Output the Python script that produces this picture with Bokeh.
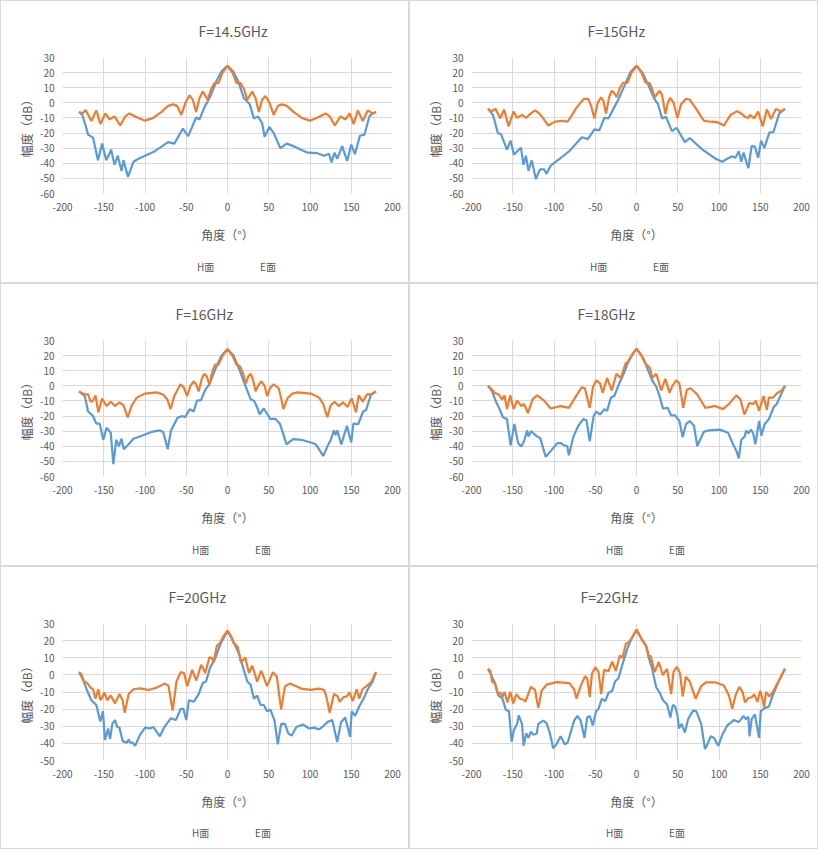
from bokeh.plotting import figure
from bokeh.layouts import gridplot
from bokeh.models import Legend, LegendItem, SingleIntervalTicker, Range1d, NumeralTickFormatter
from bokeh.embed import file_html
from bokeh.resources import INLINE

# ---------------- data (angle in degrees, amplitude in dB) ----------------
titles = ["F=14.5GHz", "F=15GHz", "F=16GHz", "F=18GHz", "F=20GHz", "F=22GHz"]
y_mins = [-60, -60, -60, -60, -50, -50]
series_names = ["H面", "E面"]

# 14.5 GHz
h145_deg = [-180, -176, -172, -169, -163, -157, -152, -147, -141, -137, -133, -128.5, -126, -120.6, -114, -108, -100, -88, -80, -72, -64.5, -54, -47.6, -41, -38, -34, -28, -21, -13, -7, 0,
            6.5, 12.4, 20, 27, 32, 37, 42, 45, 50.7, 56, 64, 71.6, 81.5, 97, 109, 117, 123, 126, 129.7, 133, 139, 145, 150, 154.5, 160.5, 166, 172, 176, 180]
h145_db = [-6, -8, -15, -21, -23, -38, -27, -38, -31, -41, -35, -45, -38, -49, -39, -37, -35, -32, -29, -26, -27, -17, -22, -13.5, -9.7, -11, -3, 4, 15, 21, 24.5,
           21, 15, 3, -1, -10.3, -9, -13.5, -22.5, -16, -20, -30, -27, -29, -33, -33.3, -35, -33.7, -39.5, -33, -37, -28.7, -38.5, -27.6, -34, -21.8, -21, -9, -7, -6]
e145_deg = [-180, -176, -172, -165, -159, -154, -148, -143, -137, -130, -124, -119, -110, -100, -90, -80, -72, -66, -61, -56, -51, -46, -42, -38, -34, -30, -24, -20, -16, -11, -6, 0,
            6, 11, 16, 20, 24, 30, 34, 38, 42, 46, 51, 56, 61, 66, 72, 80, 90, 100, 110, 119, 124, 130, 137, 143, 148, 153, 158, 164, 170, 176, 180]
e145_db = [-6, -7, -4.7, -12, -5, -14, -7, -11, -9, -15, -9, -7, -9.5, -11.8, -10, -6, -2, -1, -2, -8, 0, 5, 2, -6, 3, 7.5, 2, 9, 13, 13, 20, 24.5,
           20, 13, 13, 9, 2, 7.5, 3, -6, 2, 4.5, 0, -8, -2, -1, -2, -6, -10, -11.8, -9.5, -7, -9, -15, -9, -11, -7, -14, -5, -12, -5, -7, -6]

# 15 GHz
h15_deg = [-180, -174, -168, -164, -157, -152.6, -148.6, -142.7, -140, -137, -134, -131, -127, -122, -117, -112, -109, -104, -93, -81.5, -70, -66, -59, -51, -45, -39, -34, -28, -22, -14.4, -7.7, 0,
           7.3, 15, 21, 26, 31, 35.7, 43, 48.7, 58.6, 64.5, 80, 96, 104, 110, 116, 120, 124, 127, 129.7, 135.6, 139.6, 143.5, 147.5, 151, 155, 161, 166, 173, 180]
h15_db = [-4, -8, -20, -21, -31, -25, -34.3, -31, -29.7, -41, -35, -45, -38, -50.4, -44, -44, -47, -41.6, -37, -32, -25, -22.8, -24, -17.6, -18.2, -10, -10.3, -4, 2.2, 11.6, 20, 24.5,
          20, 11, 3.3, -0.9, -10.3, -9.3, -18.7, -16.6, -26, -23.3, -31, -37, -39, -37, -35.4, -36.4, -32, -39, -33, -43.3, -28.5, -29, -36.4, -25, -30, -19.7, -19.3, -7, -4]
e15_deg = [-180, -176, -171, -165, -160.5, -155, -149, -144.7, -139, -134, -128, -123, -118, -113, -107, -99, -90, -83.5, -78, -73.7, -68, -63.8, -58.6, -55, -51, -47, -43, -40, -37, -33, -30, -27, -24, -20, -16.4, -11, -6, 0,
           6, 11, 16, 19, 22, 28, 31, 35, 38, 41, 45, 49.5, 54, 59.8, 64.5, 72.4, 78, 82, 90, 98, 106, 114, 122, 127, 131.6, 135.6, 137.6, 142.7, 147.5, 153, 158, 163, 169, 175, 180]
e15_db = [-4, -5.7, -4, -10.3, -4.4, -15.6, -5.7, -10, -8, -10, -7, -5, -7, -10.3, -15, -12.4, -12, -12.4, -8, -4, 0, 2.6, 2.6, -2, -10.3, 0, 3.7, 1, -7, 4, 8, 6.5, 3.7, 10, 13.3, 13.3, 20, 24.5,
          20, 13.3, 13, 9, 3.7, 8, 5, -7.5, 0, 3.3, 0, -10, -1, 2.6, 2.2, -4, -9, -12, -12.5, -12.8, -15, -8, -5.5, -7, -9.3, -10, -8, -10.3, -5.7, -15.6, -4.4, -10.7, -4, -5.7, -4]

# 16 GHz
h16_deg = [-180, -173, -169, -163, -159, -155, -150.6, -146.6, -141.5, -138.4, -134.8, -131.6, -128.5, -125.7, -119.8, -114, -104, -92, -82, -78, -72.4, -68.5, -60.6, -54.7, -51.5, -45.6, -41, -37, -32, -27, -22, -15, -7.3, 0,
           7.3, 14.4, 20, 28, 32, 35, 39, 44, 52, 57.8, 63.7, 71.6, 79.5, 89.4, 103, 107, 116, 121, 125, 129, 131, 133, 138, 144.7, 150, 152.6, 158.5, 164.4, 168, 174, 180]
h16_db = [-3.7, -6.8, -17, -20, -25, -25, -35.7, -27.8, -31, -51.8, -35.7, -40, -35, -41.9, -38.7, -35, -33, -30.5, -29.5, -30.5, -41.9, -29.5, -21.2, -20, -20.8, -15.4, -17, -9.8, -9.4, -2.7, 1, 10.8, 20, 24.2,
          20, 10.8, 2.5, -8.8, -9.8, -13, -18.8, -15, -22, -21.7, -25.3, -38.7, -35.3, -35.7, -37.8, -38.7, -46.4, -40.2, -36, -29.5, -32.6, -29.5, -38.7, -26.4, -37.4, -25, -25.3, -17, -16, -5.7, -3.7]
e16_deg = [-180, -173, -169, -166, -163, -160, -156.5, -152, -146.6, -141.5, -136.4, -131, -126, -121, -116, -110, -100, -86, -78, -73, -69, -64.5, -57, -53, -49, -45, -41, -38, -35, -31, -28, -25, -22, -18, -15, -11, -6, 0,
           6, 11, 15, 19, 22, 25, 28, 31, 34, 37, 41, 45, 48, 52, 56, 62, 65, 67.7, 73, 79, 85, 101, 111, 116, 121, 125, 129.7, 134.8, 140, 145.5, 150.6, 155.7, 159, 164, 169, 174, 180]
e16_db = [-3.7, -5.7, -5.7, -10.5, -9.8, -6.3, -17.5, -8.4, -13.4, -10.5, -13.4, -10.9, -13, -20.8, -13, -7.8, -5.1, -4.3, -5.7, -9, -15.4, -6.8, 1, -1, -6.8, 0, 3, 1, -3.7, 5, 8, 6, 1, 10, 14, 14, 20, 24.2,
          20, 14, 13, 8, 1.5, 6, 8, 4, -3.7, 0, 3, 0, -6.8, -1, 1, -1.6, -8, -15.4, -8, -5.1, -4.3, -5.1, -7.8, -12, -20.8, -13, -10.5, -13.4, -10.9, -14, -8.4, -17.5, -6.3, -10.5, -5.7, -5.7, -3.7]

# 18 GHz
h18_deg = [-180, -175, -170, -166, -162, -157, -152.6, -148, -143.5, -139.6, -136.4, -132.5, -131, -127.7, -121.8, -116.7, -110, -102, -96, -92, -88, -84, -82, -76.4, -70.5, -64.5, -60.6, -56.7, -52, -48.8, -44, -39, -35.7, -31, -27, -21, -15, -9.3, 0,
           8.5, 14.4, 19, 24, 28, 32, 38, 42, 46.8, 52, 56, 60, 64.5, 69.7, 73.6, 81.5, 87.4, 101, 111, 117, 121, 124, 127, 131, 133, 135.6, 139, 141.5, 144, 148.6, 151.4, 155.4, 160.5, 166.4, 170, 176, 180]
h18_db = [0, -3.7, -10.9, -15.4, -20.8, -22, -39.4, -25.3, -37.8, -40.2, -36.7, -29.5, -33.6, -30, -33, -34.6, -47, -41.9, -38, -37.7, -39.4, -39.8, -46, -33.6, -26.4, -22, -22.8, -36.7, -20, -17, -19, -15.4, -16.6, -7.8, -6.8, 1.5, 8.7, 17, 24.6,
          18, 9.8, 3.6, -0.6, -6.8, -15, -14.6, -19.6, -19.6, -23.3, -34, -25.3, -23.3, -26.4, -39.8, -30.5, -29.5, -29, -31, -38.7, -42.9, -48, -35.7, -33.6, -29.5, -31.5, -29, -31.5, -38.7, -23.3, -33, -25.3, -22, -14, -12, -4.7, 0]
e18_deg = [-180, -175, -172, -167, -163, -160, -157, -153, -149, -144.7, -139.6, -136.4, -131.6, -126, -120.6, -112, -104, -92, -82, -74.4, -66.5, -62.6, -56.7, -52.7, -48.8, -44, -41, -35.7, -30, -24.3, -19, -13, -10, -5, 0,
           5, 10.5, 16.4, 19, 24, 30, 35, 40, 43, 48, 52, 56.6, 61, 65.7, 73.6, 83.5, 95, 105, 112, 121, 126, 130.8, 136.8, 141.5, 144.7, 148.6, 154, 158, 160.5, 165.6, 170, 176, 180]
e18_db = [0, -2.6, -4.7, -5.7, -9.2, -6.3, -15.4, -6.3, -15.4, -9.8, -13.4, -12, -18, -9, -6.3, -9.8, -15, -13.4, -14.6, -7.8, -1, -1.6, -14.6, -0.6, 3.6, 1.5, -4.7, 5.2, -3, 8, 5.2, 15, 15.5, 21, 24.6,
          21, 15, 11.8, 5.2, 8, -3, 4.6, -4.7, -0.6, 3.6, 1.5, -14.6, -2.6, -1.6, -5.7, -14.6, -13.4, -15.4, -12, -6.3, -9, -19, -11.4, -12, -9.8, -16.6, -6.8, -16, -7.8, -7.8, -5.1, -3, 0]

# 20 GHz
h20_deg = [-180, -175, -170, -165, -159, -155, -154, -151, -148.6, -144.7, -142.3, -139.6, -136.4, -133.6, -131, -127, -121.8, -119.8, -117.8, -115, -112, -106, -100, -94, -90, -86, -82, -76.4, -68.5, -62.6, -56.7, -53.5, -50, -46.8, -40.8, -35, -30, -26, -21, -15, -8.5, 0,
           8.5, 14.4, 20, 24, 28, 32, 36, 40, 44, 48, 52, 57, 61, 65, 69.7, 73.6, 77.6, 83.5, 91.4, 99, 105, 111, 115, 121, 127, 133, 137.6, 142.7, 148.6, 150.6, 154.5, 160.5, 165, 170, 176, 180]
h20_db = [1.6, -2.9, -9.3, -14.8, -17.6, -25.8, -27.1, -21.2, -38, -31.3, -37.4, -28.6, -26.4, -30.4, -30.8, -38.7, -39.6, -37.7, -39.6, -39.6, -41.4, -35, -30.8, -31.3, -30.4, -33.1, -35.9, -30.4, -25.3, -26.4, -19.8, -19.8, -26.4, -14.8, -15.7, -11.2, -4.8, -3.9, 4.4, 9.5, 18.1, 25.8,
          18.1, 11.7, 2.5, -3.9, -5.7, -13.9, -12, -17.6, -17.6, -21.2, -20.3, -26.7, -40.5, -28.6, -28.6, -34.1, -35.5, -30.4, -29, -31.3, -30.8, -31.9, -30.4, -27.6, -26.4, -39.2, -27.6, -24.9, -36.2, -21.2, -24, -17.6, -13.9, -8.4, -3.9, 1.6]
e20_deg = [-180, -177, -174, -170, -166, -163, -160, -156.6, -154, -151.4, -149.4, -145.5, -141.5, -136.4, -131, -127, -124.6, -119.8, -114, -106, -96, -86, -76.4, -71.6, -66.5, -61.8, -56.7, -52.7, -48.8, -42.8, -37.7, -32, -30, -27, -22, -19, -17, -13, -9, -5, 0,
           5, 7.3, 12.4, 16.4, 21.5, 26, 30, 36, 40.8, 48, 55, 59.8, 65, 69.7, 75.6, 89.4, 101, 111, 117, 120, 123.8, 129, 133.6, 136, 140.7, 144.7, 148, 151.8, 156.5, 159.7, 163.6, 168.4, 174, 178, 180]
e20_db = [1.6, 0.3, -3.9, -4.8, -7.5, -8.4, -13.9, -8.4, -14.8, -13, -10.2, -14.8, -12, -16.7, -11.2, -15, -22.2, -11.2, -8.4, -7.9, -8.8, -7.5, -5.1, -6.2, -20.9, -3.9, 1.6, 1.1, -6.6, 2.9, -3.3, 5.8, 4.4, 1.1, 10.2, 9.9, 7.1, 16.8, 18.7, 22.5, 25.8,
          22, 18.7, 16.3, 7.1, 10.2, 1.1, 5.3, -3.9, 2.5, -6.6, 1.6, -1.1, -20.3, -6.6, -5.1, -8, -8.8, -8, -8.8, -13, -22.2, -11.2, -12.5, -15.8, -13, -12.5, -10.2, -15.4, -8.4, -13.9, -8.4, -6.6, -4.4, -0.2, 1.6]

# 22 GHz
h22_deg = [-180, -176, -171.5, -167.6, -162.5, -158.5, -154.6, -151.4, -148.6, -144.7, -142.7, -138.8, -136.8, -133.6, -130.9, -128, -125, -121, -119, -113, -109, -105, -101, -97, -92, -87, -83.5, -79.5, -75.6, -71.6, -67.7, -63, -59.8, -56.6, -53, -49, -46, -42, -38, -34, -29.4, -26, -22, -16.4, -10.5, -6.5, 0,
           6, 11, 15, 19, 24, 28, 32, 37, 41, 44, 46.8, 49.5, 51.5, 54.7, 58.6, 62.6, 68.5, 72.4, 78.4, 83, 86, 90, 94, 99, 104, 110, 118, 124, 129.7, 132.5, 135.6, 137, 139.6, 143.5, 148.6, 150.6, 155.4, 160.5, 164.4, 169, 175, 180]
h22_db = [3.5, -0.2, -4.8, -12, -13.9, -20.3, -21.2, -39, -32.2, -28.6, -23.6, -28.6, -41.4, -34.1, -36.8, -33.1, -35, -34.4, -28.6, -26.7, -28.2, -34.1, -42.9, -40.5, -35.9, -40.5, -39.6, -33.1, -26.7, -24, -26.7, -36.8, -24.9, -24, -29.5, -21.2, -19.8, -13.9, -15.4, -10.6, -9.3, -3.9, -2, 7.1, 16.3, 20.5, 26.4,
          20.9, 17.6, 9.9, 3.5, -7.5, -10.2, -14.8, -17.2, -24.9, -17.6, -18.5, -23.1, -31.3, -28.6, -33.7, -25.8, -20.9, -21.2, -28.6, -43.3, -40.5, -35.9, -36.8, -41.4, -35, -29.5, -26.4, -27.6, -24, -25.8, -24.5, -35.9, -25.8, -23.1, -36.8, -21.2, -19.4, -18.5, -13, -7.5, -1.1, 3.5]
e22_deg = [-180, -177, -175, -171.5, -168, -165, -162.5, -160, -156.5, -153, -149.4, -145.5, -141.5, -136.8, -134.8, -128, -123, -119, -115, -109, -97, -81.5, -75.6, -72.8, -67.7, -62.4, -59.8, -56.6, -54, -50, -46, -42.8, -39.3, -34, -29.4, -25, -20.3, -17, -13, -8.5, -4, 0,
           4, 7.3, 12.4, 15, 17, 22, 27, 32, 37, 42, 44.8, 48.8, 52.7, 56, 59.8, 64.5, 71.6, 78.4, 84, 96, 106, 112, 116, 120, 124.6, 128.5, 131.6, 135.6, 140, 142.7, 146.6, 150, 152.6, 154.6, 157, 161, 165, 171, 175, 180]
e22_db = [3.5, 2.2, -3.9, -5.1, -11.2, -10.2, -13, -9.9, -16.1, -9.9, -16.7, -11.2, -13.9, -14.5, -15.8, -7, -8.8, -19.4, -9.3, -5.7, -4.2, -4.8, -8.4, -13.9, -6.6, -0.8, -2, -13, 0.7, 4.4, 1.6, -11.2, 2.9, 2.2, 7.7, 2.2, 11.3, 9.9, 18.1, 19.4, 23, 26.4,
          23, 20, 16.3, 10.2, 11.3, 1.6, 7.5, -0.2, 3.5, -11.2, 1.6, 4.7, 1.1, -12.6, -1.1, -3.9, -13.9, -6.6, -4.4, -4.4, -6.2, -12, -19.8, -12, -7, -9.9, -16.1, -13.5, -13, -11.2, -15.8, -9.3, -13.9, -19, -9.9, -12.6, -10.2, -4.8, -1.1, 3.5]

h_deg = [h145_deg, h15_deg, h16_deg, h18_deg, h20_deg, h22_deg]
h_db = [h145_db, h15_db, h16_db, h18_db, h20_db, h22_db]
e_deg = [e145_deg, e15_deg, e16_deg, e18_deg, e20_deg, e22_deg]
e_db = [e145_db, e15_db, e16_db, e18_db, e20_db, e22_db]

# ---------------- styling ----------------
FONT = "Noto Sans CJK SC"
TXT = "#595959"
GRID = "#D9D9D9"
BLUE = "#5B9BD5"
ORANGE = "#ED7D31"
BORDER = "1px solid #D9D9D9"
W = 409
PH, LH = 245, 38          # chart part / legend strip of every panel
title_left = [136, 116, 113, 106, 106, 109]
legend_x = [104, 88, 99, 104, 99, 104]
tops = [51, 51, 50, 50, 52, 52]
bottoms = [53, 53, 53, 53, 51, 51]


def make_panel(i):
    ymin = y_mins[i]
    p = figure(width=W, height=PH, output_backend="svg", toolbar_location=None,
               x_range=Range1d(-200, 200), y_range=Range1d(ymin, 30),
               min_border_left=61, min_border_right=18,
               min_border_top=tops[i], min_border_bottom=bottoms[i],
               background_fill_color="white", border_fill_color="white",
               outline_line_color=None)
    p.styles = {"border-top": BORDER, "border-left": BORDER, "border-right": BORDER}
    t = p.title
    t.text = titles[i]
    t.align = "left"
    t.offset = title_left[i]
    t.standoff = 34
    t.text_font = FONT
    t.text_font_size = "14px"
    t.text_font_style = "normal"
    t.text_color = TXT

    xt = SingleIntervalTicker(interval=50, num_minor_ticks=0)
    yt = SingleIntervalTicker(interval=10, num_minor_ticks=0)
    p.xaxis.ticker = xt
    p.yaxis.ticker = yt
    p.xgrid.ticker = xt
    p.ygrid.ticker = yt
    p.xaxis.formatter = NumeralTickFormatter(format="0")
    p.yaxis.formatter = NumeralTickFormatter(format="0")
    for g in (p.xgrid, p.ygrid):
        g.grid_line_color = GRID
        g.grid_line_width = 1
    for ax in (p.xaxis[0], p.yaxis[0]):
        ax.axis_line_color = None
        ax.major_tick_line_color = None
        ax.minor_tick_line_color = None
        ax.major_tick_out = 0
        ax.major_tick_in = 0
        ax.minor_tick_out = 0
        ax.major_label_text_font = FONT
        ax.major_label_text_font_size = "10px"
        ax.major_label_text_color = TXT
        ax.axis_label_text_font = FONT
        ax.axis_label_text_font_size = "12px"
        ax.axis_label_text_font_style = "normal"
        ax.axis_label_text_color = TXT
    p.xaxis.axis_label = "角度（°）"
    p.yaxis.axis_label = "幅度（dB）"
    p.xaxis.major_label_standoff = 9
    p.xaxis.axis_label_standoff = 12
    p.yaxis.major_label_standoff = 8
    p.yaxis.axis_label_standoff = 2

    p.line(h_deg[i], h_db[i], line_color=BLUE, line_width=2.2)
    p.line(e_deg[i], e_db[i], line_color=ORANGE, line_width=2.2)

    # legend strip below the chart (its own small figure, no axes)
    lf = figure(width=W, height=LH, output_backend="svg", toolbar_location=None,
                x_range=Range1d(0, 1), y_range=Range1d(0, 1),
                x_axis_location=None, y_axis_location=None,
                min_border_left=61, min_border_right=18, min_border_top=0, min_border_bottom=0,
                background_fill_color="white", border_fill_color="white",
                outline_line_color=None)
    lf.styles = {"border-bottom": BORDER, "border-left": BORDER, "border-right": BORDER}
    lf.xgrid.visible = False
    lf.ygrid.visible = False
    kh = lf.line(x=[], y=[], line_color=BLUE, line_width=2.2)
    ke = lf.line(x=[], y=[], line_color=ORANGE, line_width=2.2)
    leg = Legend(items=[LegendItem(label=series_names[0], renderers=[kh]),
                        LegendItem(label=series_names[1], renderers=[ke])],
                 orientation="horizontal", location=(legend_x[i], 9),
                 border_line_color=None, background_fill_alpha=0,
                 label_text_font=FONT, label_text_font_size="10px",
                 label_text_color=TXT, glyph_width=26, glyph_height=12,
                 label_standoff=5, spacing=12, padding=4, margin=0)
    lf.add_layout(leg)
    return p, lf


parts = [make_panel(i) for i in range(6)]
rows = []
for r in range(3):
    a, la = parts[2 * r]
    b, lb = parts[2 * r + 1]
    rows.append([a, b])
    rows.append([la, lb])
grid = gridplot(rows, toolbar_location=None)

open("out.html", "w").write(file_html(grid, INLINE))
